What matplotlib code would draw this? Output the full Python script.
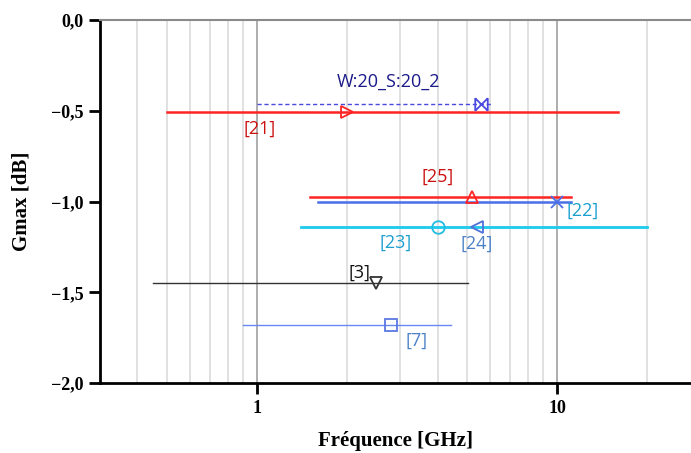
import matplotlib
matplotlib.use("Agg")
import matplotlib.pyplot as plt
from matplotlib.path import Path
from matplotlib.ticker import FixedLocator, NullFormatter

# data: (label, f_min, f_max, f_marker, gmax)
labels = ["W:20_S:20_2", "[21]", "[25]", "[22]", "[23]", "[24]", "[3]", "[7]"]
f_min = [1.0, 0.5, 1.5, 1.6, 1.4, 1.4, 0.45, 0.9]
f_max = [6.1, 16.0, 11.1, 11.1, 20.0, 20.0, 5.05, 4.45]
f_mark = [5.6, 2.0, 5.2, 10.0, 4.0, 5.4, 2.5, 2.8]
gmax = [-0.465, -0.505, -0.975, -1.0, -1.14, -1.14, -1.45, -1.68]

y_ticks = [0.0, -0.5, -1.0, -1.5, -2.0]
y_ticklabels = ["0,0", "\u22120,5", "\u22121,0", "\u22121,5", "\u22122,0"]

bowtie = Path(
    [(-1, -1), (1, 1), (-1, 1), (1, -1), (-1, -1), (-1, 1), (1, -1), (1, 1)],
    [Path.MOVETO, Path.LINETO, Path.MOVETO, Path.LINETO,
     Path.MOVETO, Path.LINETO, Path.MOVETO, Path.LINETO],
)

styles = [
    dict(color="#4a4ae0", lw=1.0, ls=(0, (3, 2)), marker=bowtie, ms=9),
    dict(color="#ff2424", lw=1.8, ls="-", marker=">", ms=9),
    dict(color="#ff2424", lw=1.8, ls="-", marker="^", ms=9),
    dict(color="#4a6ee8", lw=1.8, ls="-", marker="x", ms=9),
    dict(color="#22ccee", lw=1.8, ls="-", marker="o", ms=9),
    dict(color="#22ccee", lw=1.8, ls="-", marker="<", ms=9),
    dict(color="#333333", lw=1.0, ls="-", marker="v", ms=9),
    dict(color="#6a86f0", lw=1.0, ls="-", marker="s", ms=9),
]
marker_colors = ["#4a4ae0", "#ff2424", "#ff2424", "#4a6ee8", "#22bbe0", "#5070d8", "#333333", "#5a78e0"]

# text annotations: label text, (x, y) in data coords, colour
notes = [
    ("W:20_S:20_2", 2.75, -0.34, "#1a1a8a"),
    ("[21]", 1.02, -0.6, "#cc1010"),
    ("[25]", 4.0, -0.865, "#cc1010"),
    ("[22]", 12.2, -1.05, "#1a9fd0"),
    ("[23]", 2.9, -1.225, "#1a9fd0"),
    ("[24]", 5.4, -1.235, "#4a80c8"),
    ("[3]", 2.2, -1.39, "#111111"),
    ("[7]", 3.4, -1.765, "#4a80c8"),
]

fig = plt.figure(figsize=(6.91, 4.53), dpi=100)
ax = fig.add_axes([100 / 691, 1 - 383 / 453, 1 - 100 / 691, 363 / 453])
ax.set_xscale("log")
ax.set_xlim(0.3, 10 ** ((691 - 257) / 300))
ax.set_ylim(-2.0, 0.0)

ax.xaxis.set_minor_locator(FixedLocator([0.4, 0.5, 0.6, 0.7, 0.8, 0.9] + list(range(2, 10)) + [20]))
ax.xaxis.set_minor_formatter(NullFormatter())
ax.set_xticks([1, 10])
ax.set_xticklabels(["1", "10"])
ax.grid(True, which="minor", axis="x", color="#dcdcdc", lw=1.2)
ax.grid(True, which="major", axis="x", color="#a0a0a0", lw=1.2)
ax.set_axisbelow(True)

for i in range(len(labels)):
    st = styles[i]
    ax.plot([f_min[i], f_max[i]], [gmax[i], gmax[i]], color=st["color"], lw=st["lw"], ls=st["ls"], zorder=3)
    ax.plot([f_mark[i]], [gmax[i]], marker=st["marker"], ms=st["ms"], mfc="none",
            mec=marker_colors[i], mew=1.3, ls="none", zorder=4)

for text, x, y, c in notes:
    ax.text(x, y, text, color=c, fontsize=13, family="Open Sans", ha="center", va="center")

ax.set_yticks(y_ticks)
ax.set_yticklabels(y_ticklabels)

serif = "Liberation Serif"
for lab in ax.get_xticklabels() + ax.get_yticklabels():
    lab.set_family(serif)
    lab.set_fontweight("bold")
    lab.set_fontsize(13)
ax.tick_params(axis="both", which="major", direction="out", length=8, width=2, color="black", pad=4)
ax.tick_params(axis="x", which="minor", length=0)

ax.spines["left"].set_color("black")
ax.spines["left"].set_linewidth(2)
ax.spines["bottom"].set_color("black")
ax.spines["bottom"].set_linewidth(2)
ax.spines["top"].set_color("#8a8a8a")
ax.spines["top"].set_linewidth(1.5)
ax.spines["right"].set_visible(False)

ax.set_xlabel("Fréquence [GHz]", family=serif, fontweight="bold", fontsize=15, labelpad=10)
ax.set_ylabel("Gmax [dB]", family=serif, fontweight="bold", fontsize=15, labelpad=14)

fig.savefig("out.png", dpi=100)
